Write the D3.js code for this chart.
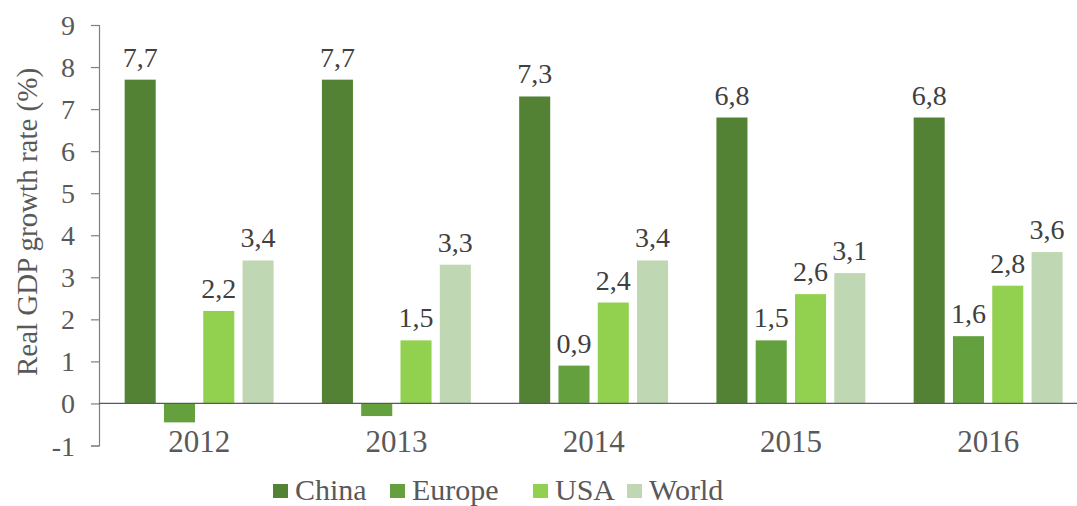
<!DOCTYPE html>
<html>
<head>
<meta charset="utf-8">
<script src="https://cdn.jsdelivr.net/npm/d3@7"></script>
<style>
  html, body { margin: 0; padding: 0; background: #fff; }
  svg { display: block; }
</style>
</head>
<body>
<svg id="chart" width="1077" height="506"></svg>
<script>
// Real GDP growth rate (%) by region, 2012–2016
const years = ["2012", "2013", "2014", "2015", "2016"];
const seriesNames = ["China", "Europe", "USA", "World"];
const china  = [7.7, 7.7, 7.3, 6.8, 6.8];
const europe = [-0.45, -0.3, 0.9, 1.5, 1.6];
const usa    = [2.2, 1.5, 2.4, 2.6, 2.8];
const world  = [3.4, 3.3, 3.4, 3.1, 3.6];
const yTicks = [-1, 0, 1, 2, 3, 4, 5, 6, 7, 8, 9];
const colors = ["#548235", "#65a03f", "#92d050", "#bfd7b3"];
// Europe's negative years carry no value label
const showLabel = [
  [true, true, true, true, true],
  [false, false, true, true, true],
  [true, true, true, true, true],
  [true, true, true, true, true]
];

const seriesValues = [china, europe, usa, world];
const FONT = "Liberation Serif";
const TEXT = "#595959";

const svg = d3.select("#chart");

const y = d3.scaleLinear().domain([-1, 9]).range([445.5, 25]);
const x0 = d3.scaleBand().domain(years).range([100.5, 100.5 + 5 * 197.25]).paddingInner(0).paddingOuter(0);
const x1 = d3.scaleBand().domain(seriesNames).range([0, x0.bandwidth()]).paddingInner(0.21).paddingOuter(0.615);

const fmt = v => d3.format(".1f")(v).replace(".", ",");

// Y axis
const yAxis = d3.axisLeft(y).tickValues(yTicks).tickSize(8).tickPadding(16).tickFormat(d => d);
const gy = svg.append("g").attr("transform", "translate(99,0)").call(yAxis);
gy.attr("font-family", FONT).attr("font-size", 28);
gy.select(".domain").attr("stroke", "#7f7f7f").attr("stroke-width", 1.2);
gy.selectAll(".tick line").attr("stroke", "#7f7f7f").attr("stroke-width", 1.2);
gy.selectAll(".tick text").attr("fill", TEXT).attr("font-family", FONT).attr("dy", "0.34em");

// Axis title
svg.append("text")
  .attr("transform", "translate(37,222) rotate(-90)")
  .attr("text-anchor", "middle")
  .attr("font-family", FONT)
  .attr("font-size", 29)
  .attr("fill", TEXT)
  .text("Real GDP growth rate (%)");

// Bars and value labels
const barData = [];
seriesNames.forEach((name, si) => {
  seriesValues[si].forEach((v, i) => {
    barData.push({ name, si, year: years[i], value: v, label: showLabel[si][i] });
  });
});

svg.append("g").selectAll("rect")
  .data(barData)
  .enter().append("rect")
  .attr("x", d => x0(d.year) + x1(d.name))
  .attr("width", x1.bandwidth())
  .attr("y", d => y(Math.max(0, d.value)))
  .attr("height", d => Math.abs(y(d.value) - y(0)))
  .attr("fill", d => colors[d.si]);

svg.append("g").selectAll("text")
  .data(barData.filter(d => d.label))
  .enter().append("text")
  .attr("x", d => x0(d.year) + x1(d.name) + x1.bandwidth() / 2)
  .attr("y", d => y(d.value) - 13)
  .attr("text-anchor", "middle")
  .attr("font-family", FONT)
  .attr("font-size", 28)
  .attr("fill", "#404040")
  .text(d => fmt(d.value));

// Zero baseline
svg.append("line")
  .attr("x1", 99).attr("x2", 1077)
  .attr("y1", y(0)).attr("y2", y(0))
  .attr("stroke", "#595959").attr("stroke-width", 1.2);

// Category labels
svg.append("g").selectAll("text")
  .data(years)
  .enter().append("text")
  .attr("x", d => x0(d) + x0.bandwidth() / 2)
  .attr("y", 452)
  .attr("text-anchor", "middle")
  .attr("font-family", FONT)
  .attr("font-size", 31)
  .attr("fill", TEXT)
  .text(d => d);

// Legend
const legendX = [273, 390, 533, 627];
const legend = svg.append("g");
seriesNames.forEach((name, i) => {
  legend.append("rect")
    .attr("x", legendX[i]).attr("y", 484)
    .attr("width", 15).attr("height", 14)
    .attr("fill", colors[i]);
  legend.append("text")
    .attr("x", legendX[i] + 22).attr("y", 500)
    .attr("font-family", FONT)
    .attr("font-size", 30)
    .attr("fill", TEXT)
    .text(name);
});
</script>
</body>
</html>
